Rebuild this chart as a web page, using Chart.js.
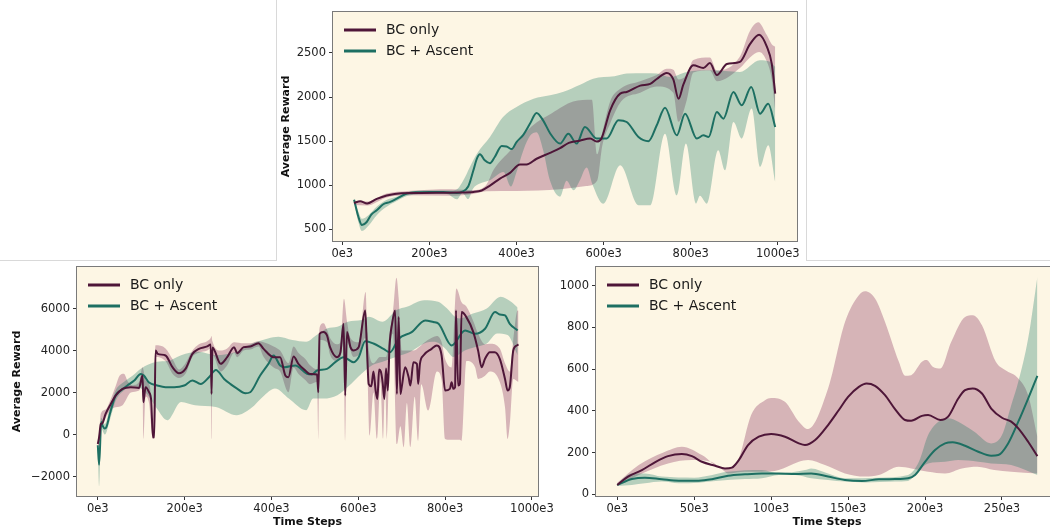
<!DOCTYPE html>
<html>
<head>
<meta charset="utf-8">
<script src="https://cdn.jsdelivr.net/npm/chart.js@4.4.0/dist/chart.umd.min.js"></script>
<style>
  body { margin: 0; width: 1050px; height: 532px; overflow: hidden; background: #fff; position: relative; font-family: "DejaVu Sans", sans-serif; }
  .panel { position: absolute; }
  .rule { position: absolute; background: #d9d9d9; }
</style>
</head>
<body>
<div class="panel" style="left:277px;top:0;width:529px;height:262px"><canvas id="chart-top"></canvas></div>
<div class="panel" style="left:0;top:250px;width:570px;height:282px"><canvas id="chart-left"></canvas></div>
<div class="panel" style="left:545px;top:250px;width:515px;height:282px"><canvas id="chart-right"></canvas></div>
<div class="rule" style="left:276px;top:0;width:1px;height:261px"></div>
<div class="rule" style="left:806px;top:0;width:1px;height:261px"></div>
<div class="rule" style="left:0;top:260px;width:276px;height:1px"></div>
<div class="rule" style="left:807px;top:260px;width:243px;height:1px"></div>
<script>
// x values are in thousands of time steps: [x, reward]

// top panel
const topXTicks = [0, 200, 400, 600, 800, 1000];
const topYTicks = [500, 1000, 1500, 2000, 2500];
const topBcMean = [[27,798],[41,818],[57,792],[79,845],[102,884],[136,910],[170,912],[216,913],[263,916],[301,923],[320,940],[339,995],[362,1075],[385,1140],[408,1235],[423,1235],[446,1300],[477,1366],[500,1420],[520,1480],[545,1505],[569,1530],[584,1495],[595,1530],[615,1850],[638,2039],[653,2058],[684,2130],[707,2150],[722,2205],[745,2274],[760,2200],[772,1980],[783,2140],[806,2360],[829,2330],[844,2385],[860,2250],[883,2375],[913,2400],[936,2600],[957,2708],[975,2570],[986,2380],[994,2040]];
const topBcHi = [[27,825],[57,815],[102,905],[150,935],[250,955],[300,945],[330,1000],[348,1180],[387,1400],[435,1670],[482,1820],[530,1950],[573,1970],[585,1350],[597,1600],[615,1950],[640,2100],[684,2180],[722,2250],[745,2320],[760,2310],[772,2200],[790,2250],[806,2420],[844,2450],[860,2300],[913,2460],[936,2750],[955,2850],[975,2700],[986,2600],[994,2570]];
const topBcLo = [[27,775],[57,770],[102,860],[150,885],[250,880],[300,900],[330,930],[400,935],[450,940],[500,955],[560,990],[585,1050],[597,1450],[615,1700],[640,1950],[684,2050],[722,2120],[760,2050],[772,1720],[790,1950],[806,2280],[844,2300],[860,2180],[913,2330],[936,2450],[957,2510],[975,2400],[986,2200],[994,1850]];
const topAscMean = [[27,836],[37,640],[45,548],[56,583],[67,670],[79,715],[94,784],[110,810],[125,848],[148,905],[171,920],[201,923],[232,922],[263,912],[274,923],[289,985],[301,1169],[309,1302],[316,1351],[327,1283],[339,1250],[350,1320],[366,1445],[377,1440],[389,1410],[400,1490],[416,1574],[431,1699],[446,1819],[461,1736],[477,1590],[500,1472],[519,1585],[538,1472],[557,1660],[584,1529],[607,1529],[634,1736],[653,1717],[680,1547],[703,1500],[722,1680],[741,1880],[768,1566],[787,1812],[814,1529],[829,1566],[841,1547],[860,1831],[875,1755],[898,2057],[917,1906],[939,2114],[959,1812],[978,1925],[994,1660]];
const topAscHi = [[27,850],[37,700],[45,620],[60,660],[80,760],[100,830],[125,870],[150,920],[200,940],[250,940],[265,960],[278,1055],[293,1207],[309,1358],[339,1547],[369,1774],[400,1887],[439,1982],[477,2020],[508,2060],[546,2140],[576,2209],[625,2235],[653,2266],[696,2270],[722,2266],[752,2228],[791,2285],[844,2303],[913,2285],[959,2417],[982,2400],[994,2340]];
const topAscLo = [[27,820],[37,580],[45,480],[60,540],[80,665],[100,750],[125,820],[150,880],[200,900],[240,900],[263,840],[276,910],[289,843],[300,960],[316,1018],[340,1060],[370,1150],[387,985],[400,1150],[416,1400],[431,1560],[446,1600],[461,1400],[477,1050],[500,870],[515,1050],[531,942],[545,1050],[561,1200],[575,1000],[599,791],[638,1226],[680,772],[707,772],[741,1585],[768,886],[789,1472],[812,791],[821,880],[837,791],[863,1396],[879,1169],[898,1717],[917,1529],[940,1869],[959,1207],[978,1453],[994,1037]];

// bottom left panel
const leftXTicks = [0, 200, 400, 600, 800, 1000];
const leftYTicks = [-2000, 0, 2000, 4000, 6000];
const leftBcMean = [[0,-448],[3,-129],[7,506],[10,530],[18,983],[30,1460],[41,1860],[57,2175],[76,2256],[95,2223],[103,2814],[105,1540],[110,2256],[118,2018],[123,1622],[127,-129],[130,-129],[133,4007],[138,3845],[156,3768],[172,3210],[187,2924],[202,3130],[218,3845],[233,4083],[252,4198],[260,4293],[262,1937],[264,4150],[283,3368],[298,3687],[314,4164],[321,3878],[336,4164],[351,4198],[370,4355],[382,4083],[405,3687],[420,3687],[432,2814],[439,2733],[451,3720],[462,3368],[478,3050],[489,2890],[505,2860],[508,2018],[511,4800],[520,4880],[528,4720],[535,4164],[551,3687],[559,3920],[566,5275],[570,1860],[574,4880],[582,4164],[589,4007],[601,4164],[616,5915],[620,4100],[624,2400],[630,2300],[635,3000],[640,2100],[644,1700],[648,3100],[652,3000],[656,2500],[660,1700],[664,3150],[668,2100],[672,4200],[678,5300],[685,5915],[689,1937],[693,5600],[697,1937],[700,2257],[708,3210],[716,2733],[720,2335],[727,3450],[735,3370],[738,2414],[742,3370],[750,3768],[769,4083],[781,4245],[792,3768],[800,2099],[811,2178],[815,2495],[819,2178],[823,2256],[825,5915],[830,2335],[834,2414],[838,5834],[849,5595],[865,4880],[876,4007],[884,3210],[892,3610],[903,3926],[914,3926],[926,3610],[938,2652],[944,2099],[949,2256],[957,4007],[965,4245],[969,4293]];
const leftBcHi = [[0,-300],[3,100],[7,1000],[18,1200],[30,1700],[41,2300],[50,2800],[60,2900],[70,2500],[80,2350],[95,2500],[103,3210],[110,2600],[120,2300],[127,500],[133,4250],[156,4100],[172,3600],[187,3100],[202,3400],[218,4000],[233,4300],[252,4450],[260,4600],[262,4700],[264,4450],[283,4000],[298,4100],[314,4400],[336,4350],[351,4350],[370,4450],[382,4400],[405,4200],[420,4000],[439,3400],[451,4200],[462,3900],[478,3600],[489,3300],[505,3100],[511,5100],[520,5300],[528,5000],[535,4600],[551,4300],[559,4400],[567,6470],[574,5400],[582,4600],[601,4400],[617,6790],[621,4800],[635,3400],[650,3700],[664,3700],[672,4800],[680,5900],[688,7470],[693,6500],[700,4000],[710,4000],[727,4000],[742,4200],[760,4500],[781,4700],[792,4400],[800,3600],[815,3200],[826,6960],[838,6300],[849,6100],[865,5400],[876,4800],[892,4300],[903,4330],[926,4100],[938,3400],[949,3000],[957,4500],[967,5915],[969,5900]];
const leftBcLo = [[0,-600],[3,-500],[7,300],[18,800],[30,1200],[41,1300],[57,1400],[76,2000],[95,2100],[103,2400],[105,-200],[110,1800],[118,1500],[127,-200],[130,-200],[133,3700],[156,3500],[172,2900],[187,2700],[202,2900],[218,3700],[233,3900],[252,4000],[260,4100],[262,-200],[264,3800],[283,3000],[298,3300],[314,3900],[321,3687],[336,4000],[351,4050],[370,4200],[382,3700],[405,3200],[420,3000],[439,2018],[451,3200],[462,2900],[478,2600],[489,2400],[505,2500],[508,-270],[511,4500],[528,4400],[535,3800],[551,3500],[559,3600],[566,4500],[570,-290],[574,4400],[589,3700],[601,3800],[616,4600],[621,3000],[626,-50],[635,2000],[643,-200],[651,2500],[657,-200],[662,2600],[666,-200],[672,3700],[680,4800],[689,-450],[697,400],[705,-600],[712,1500],[720,-600],[730,1800],[738,-300],[745,2400],[761,1145],[781,3000],[792,2600],[800,-210],[811,-250],[815,-250],[825,-250],[834,-250],[838,-300],[849,3500],[869,3210],[876,2650],[892,2800],[903,3000],[926,2500],[938,1302],[944,-210],[949,500],[957,2650],[969,2500]];
const leftAscMean = [[0,-509],[3,-1431],[8,604],[11,430],[16,286],[20,366],[28,1000],[41,1860],[53,2098],[68,2337],[84,2575],[99,2890],[106,2814],[118,2480],[137,2337],[156,2256],[176,2256],[199,2337],[218,2575],[237,2414],[256,2733],[272,3082],[291,2652],[305,2414],[320,2200],[340,1970],[351,2018],[374,2814],[393,3368],[405,3768],[420,3291],[431,3210],[455,3291],[482,2890],[493,2860],[505,3050],[528,3130],[547,3450],[566,3687],[589,3450],[601,3687],[616,4450],[635,4340],[658,4083],[673,3920],[693,4560],[723,4880],[754,5438],[773,5358],[785,5280],[815,4245],[846,4960],[869,4800],[892,5040],[915,5834],[926,5720],[938,5675],[949,5275],[967,4960]];
const leftAscHi = [[0,-300],[3,-1200],[8,800],[16,500],[28,1300],[41,2100],[60,2500],[80,2800],[100,3148],[136,3466],[160,3500],[192,3784],[232,3943],[272,3784],[320,3943],[352,4300],[392,4579],[416,4659],[448,4500],[480,4420],[504,4738],[528,5056],[552,5136],[576,5374],[608,5454],[624,5613],[656,5374],[688,5931],[712,6090],[752,6400],[784,6328],[800,6090],[832,5533],[864,5772],[896,6010],[928,6567],[952,6328],[967,6058]];
const leftAscLo = [[0,-700],[3,-2460],[8,300],[16,0],[28,700],[41,1600],[60,2100],[80,2300],[100,2194],[118,1800],[136,1240],[160,684],[192,1558],[224,1400],[272,1320],[320,922],[352,1240],[384,1876],[408,2194],[440,1717],[480,1160],[496,1717],[520,1717],[552,1876],[576,2273],[608,2910],[632,3307],[656,3466],[688,3705],[720,3943],[752,4341],[776,4420],[800,4102],[819,3700],[848,4023],[872,4182],[896,4341],[920,4818],[944,4738],[967,3784]];

// bottom right panel
const rightXTicks = [0, 50, 100, 150, 200, 250];
const rightYTicks = [0, 200, 400, 600, 800, 1000];
const rightBcMean = [[0,45],[7,85],[16,116],[25,156],[33,183],[42,193],[48.5,183],[55,156],[63.6,137],[70,124],[74.5,128],[79,164],[85,236],[92,276],[100,289],[109,276],[118,244],[122,236],[128.6,260],[137,332],[144,404],[150,467],[157,515],[162,531],[167.5,520],[174,475],[180.5,408],[187,356],[191,352],[198,376],[202,380],[210,356],[215,372],[221.6,459],[226,499],[231,507],[237,483],[243,411],[250,367],[256,348],[260.6,316],[267,252],[273,183]];
const rightBcHi = [[0,55],[14,140],[30,200],[42,228],[55,188],[68,124],[74,130],[79,172],[87,380],[96,451],[100,462],[109,443],[118,348],[124,313],[137,507],[148,826],[157,954],[161,973],[167.5,938],[174,826],[183,635],[187,568],[191,571],[198,635],[201,643],[205,611],[210,603],[217,730],[226,850],[231,858],[237,810],[246,635],[252,595],[260.6,555],[267,475],[273,276]];
const rightBcLo = [[0,40],[14,92],[33,148],[48.5,164],[61,156],[68,120],[72,100],[83,108],[94,108],[105,116],[118,156],[124,164],[135,140],[148,100],[161,85],[170,92],[183,132],[191,124],[202,108],[213,100],[224,124],[234,132],[245,116],[256,108],[273,100]];
const rightAscMean = [[0,45],[9.5,73],[18,80],[29,72],[40,65],[53,65],[61.5,72],[72,89],[83,96],[94,100],[105,100],[115.6,97],[126,100],[137,85],[148,69],[159,64],[170,72],[180.5,73],[189,77],[193.5,93],[200,156],[206.5,212],[213,244],[218,249],[226,233],[234.6,204],[243,185],[247.6,188],[254,244],[260.6,348],[267,459],[273,568]];
const rightAscHi = [[0,50],[9.5,100],[18,100],[29,85],[50,80],[72,108],[94,116],[105,100],[122,116],[126,124],[137,100],[148,77],[170,80],[189,93],[196,156],[202,284],[208.7,348],[215,364],[221.6,348],[232,300],[243,244],[250,284],[256,427],[260.6,539],[267,746],[273,1041]];
const rightAscLo = [[0,40],[9.5,45],[18,53],[29,61],[40,53],[53,56],[64,64],[83,73],[94,77],[105,93],[115.6,93],[126,77],[137,69],[148,61],[161,57],[180.5,61],[189,64],[196,116],[202,148],[213,156],[221.6,164],[234.6,156],[243,148],[256,140],[273,92]];

const BC_COLOR = "#4e1638";
const ASC_COLOR = "#1d6f62";
const BC_FILL = "rgba(125, 25, 80, 0.3)";
const ASC_FILL = "rgba(20, 115, 95, 0.3)";
const BG = "#fdf6e4";
const FONT = '"DejaVu Sans", sans-serif';

const pts = (arr) => arr.map(([x, y]) => ({ x, y }));
const fmtNum = (v) => (v < 0 ? "\u2212" + Math.abs(v) : String(v));

// cream axes background, full box spines and the legend inside the axes
const panelFrame = {
  id: "panelFrame",
  beforeDraw(chart) {
    const a = chart.chartArea;
    const c = chart.ctx;
    c.save();
    c.fillStyle = BG;
    c.fillRect(a.left, a.top, a.right - a.left, a.bottom - a.top);
    c.restore();
  },
  afterDraw(chart) {
    const a = chart.chartArea;
    const c = chart.ctx;
    c.save();
    c.strokeStyle = "#7a7a7a";
    c.lineWidth = 1;
    c.strokeRect(Math.round(a.left) - 0.5, Math.round(a.top) - 0.5, Math.round(a.right - a.left) + 1, Math.round(a.bottom - a.top) + 1);

    const items = [["BC only", BC_COLOR], ["BC + Ascent", ASC_COLOR]];
    c.font = "14px " + FONT;
    c.textBaseline = "middle";
    items.forEach(([label, color], i) => {
      const y = a.top + 18 + i * 21;
      c.strokeStyle = color;
      c.lineWidth = 3;
      c.beginPath();
      c.moveTo(a.left + 11, y);
      c.lineTo(a.left + 43, y);
      c.stroke();
      c.fillStyle = "#1a1a1a";
      c.fillText(label, a.left + 53, y);
    });
    c.restore();
  },
};

function makeChart(id, s) {
  const line = (data, color) => ({
    data: pts(data),
    borderColor: color,
    backgroundColor: color,
    borderWidth: 2,
    pointRadius: 0,
    fill: false,
  });
  const edge = (data, fill, color) => ({
    data: pts(data),
    borderWidth: 0,
    pointRadius: 0,
    fill: fill,
    backgroundColor: color,
  });
  return new Chart(document.getElementById(id), {
    type: "line",
    data: {
      datasets: [
        { label: "BC only", ...line(s.bcMean, BC_COLOR) },
        { label: "BC + Ascent", ...line(s.ascMean, ASC_COLOR) },
        edge(s.ascHi, false, ASC_FILL),
        edge(s.ascLo, "-1", ASC_FILL),
        edge(s.bcHi, false, BC_FILL),
        edge(s.bcLo, "-1", BC_FILL),
      ],
    },
    options: {
      responsive: true,
      maintainAspectRatio: false,
      animation: false,
      cubicInterpolationMode: "monotone",
      layout: { padding: s.padding },
      plugins: {
        legend: { display: false },
        tooltip: { enabled: false },
      },
      scales: {
        x: {
          type: "linear",
          min: s.xMin,
          max: s.xMax,
          afterBuildTicks: (sc) => { sc.ticks = s.xTicks.map((v) => ({ value: v })); },
          afterFit: (sc) => { sc.height = s.xAxisH; },
          grid: { display: true, drawOnChartArea: false, drawTicks: true, tickLength: 4, color: "#333" },
          border: { display: false },
          ticks: { autoSkip: false, maxRotation: 0, padding: 2, color: "#222", font: { family: FONT, size: 11.5 }, callback: (v) => v + "e3" },
          title: {
            display: !!s.xTitle,
            text: s.xTitle,
            color: "#111",
            font: { family: FONT, size: 11, weight: "bold" },
            padding: { top: 0, bottom: 3.5 },
          },
        },
        y: {
          min: s.yMin,
          max: s.yMax,
          afterBuildTicks: (sc) => { sc.ticks = s.yTicks.map((v) => ({ value: v })); },
          afterFit: (sc) => { sc.width = s.yAxisW; },
          grid: { display: true, drawOnChartArea: false, drawTicks: true, tickLength: 4, color: "#333" },
          border: { display: false },
          ticks: { autoSkip: false, padding: 3, color: "#222", font: { family: FONT, size: 11.5 }, callback: fmtNum },
          title: {
            display: !!s.yTitle,
            text: s.yTitle,
            color: "#111",
            font: { family: FONT, size: 11, weight: "bold" },
            padding: { top: s.yTitlePad, bottom: 0 },
          },
        },
      },
    },
    plugins: [panelFrame],
  });
}

makeChart("chart-top", {
  bcMean: topBcMean, bcHi: topBcHi, bcLo: topBcLo,
  ascMean: topAscMean, ascHi: topAscHi, ascLo: topAscLo,
  xTicks: topXTicks, yTicks: topYTicks,
  xMin: -21.4, xMax: 1044, yMin: 367, yMax: 2965,
  xAxisH: 21, yAxisW: 56, padding: { top: 12, right: 9, left: 0, bottom: 0 },
  yTitle: "Average Reward", yTitlePad: 3, xTitle: "",
});

makeChart("chart-left", {
  bcMean: leftBcMean, bcHi: leftBcHi, bcLo: leftBcLo,
  ascMean: leftAscMean, ascHi: leftAscHi, ascLo: leftAscLo,
  xTicks: leftXTicks, yTicks: leftYTicks,
  xMin: -47.9, xMax: 1014, yMin: -2924, yMax: 7981,
  xAxisH: 36, yAxisW: 77, padding: { top: 17, right: 32, left: 0, bottom: 0 },
  yTitle: "Average Reward", yTitlePad: 11, xTitle: "Time Steps",
});

makeChart("chart-right", {
  bcMean: rightBcMean, bcHi: rightBcHi, bcLo: rightBcLo,
  ascMean: rightAscMean, ascHi: rightAscHi, ascLo: rightAscLo,
  xTicks: rightXTicks, yTicks: rightYTicks,
  xMin: -13.8, xMax: 286.4, yMin: -8, yMax: 1089,
  xAxisH: 36, yAxisW: 51, padding: { top: 17, right: 2, left: 0, bottom: 0 },
  yTitle: "", yTitlePad: 0, xTitle: "Time Steps",
});
</script>
</body>
</html>
